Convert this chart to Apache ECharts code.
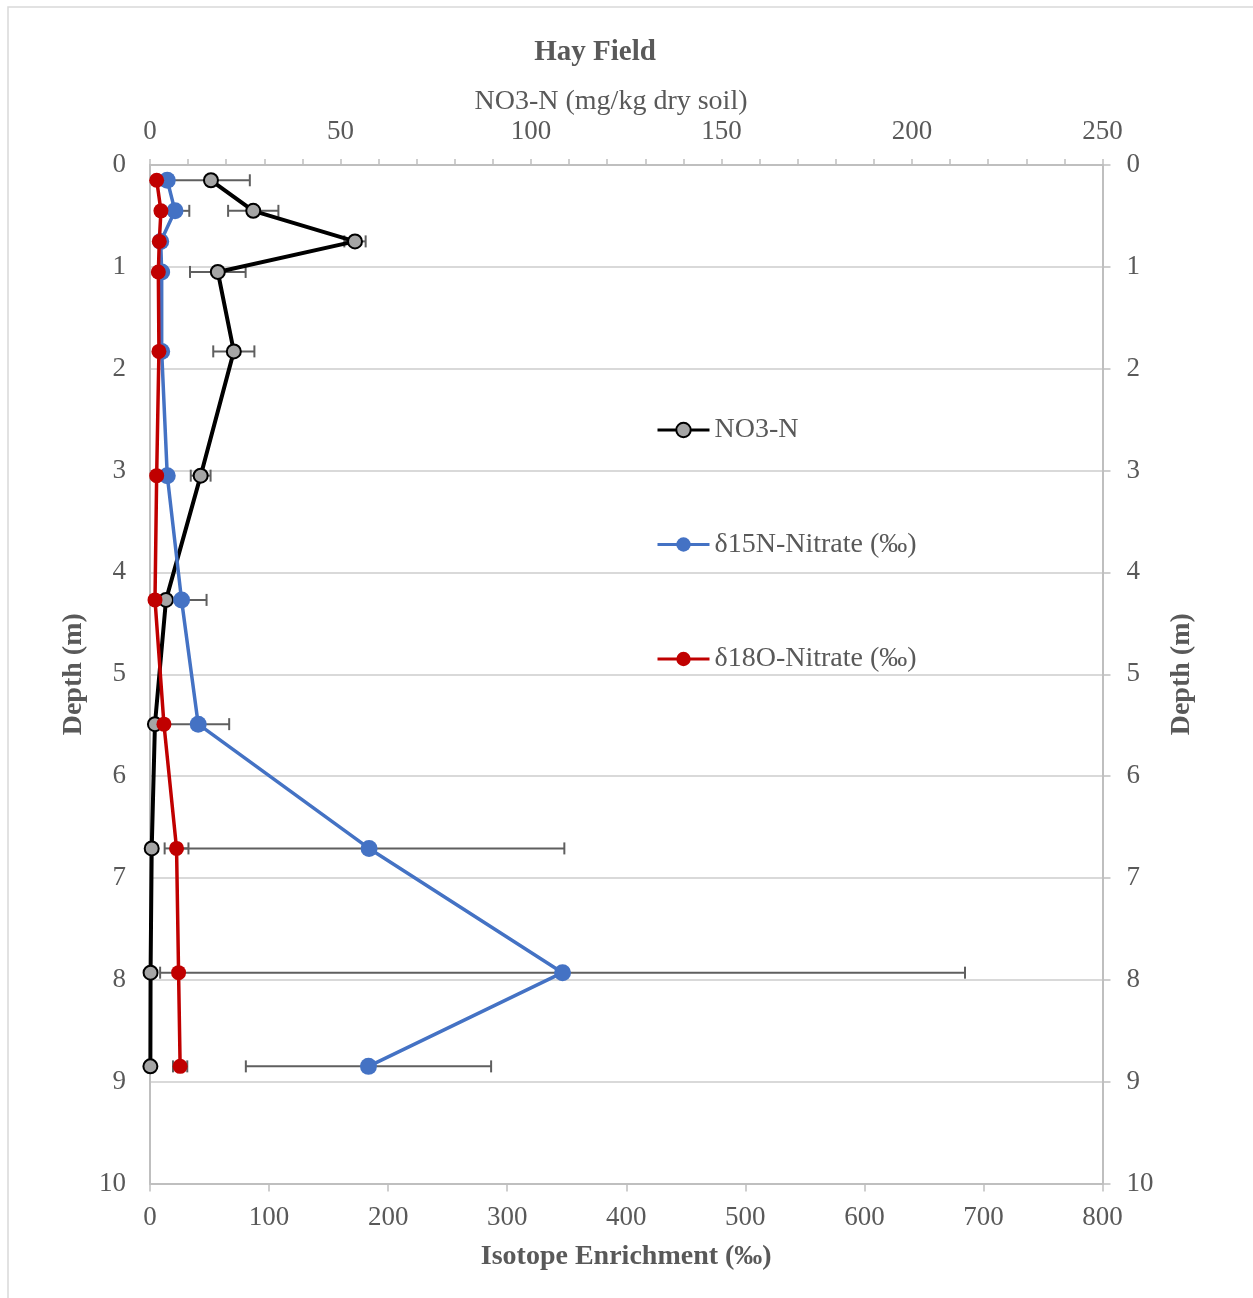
<!DOCTYPE html>
<html>
<head>
<meta charset="utf-8">
<title>Hay Field</title>
<script src="https://cdn.jsdelivr.net/npm/echarts@6/dist/echarts.min.js"></script>
<style>
  html, body { margin: 0; padding: 0; background: #ffffff; }
  #chart { width: 1253px; height: 1298px; }
</style>
</head>
<body>
<div id="chart"></div>
<script>
// Sampling depths (m)
const depths = [0.15, 0.45, 0.75, 1.05, 1.83, 3.05, 4.27, 5.49, 6.71, 7.93, 8.85];

// Nitrate concentration, NO3-N (mg/kg dry soil), with standard error
const no3 = [16.0, 27.1, 53.8, 17.8, 22.0, 13.3, 4.2, 1.3, 0.45, 0.15, 0.1];
const no3Err = [10.2, 6.6, 2.8, 7.3, 5.4, 2.6, null, null, null, null, null];

// δ15N of nitrate (‰), with standard error
const d15N = [14.5, 21.0, 9.0, 9.8, 9.8, 14.5, 26.5, 40.5, 184.0, 346.5, 183.5];
const d15NErr = [null, 12, null, null, null, null, 21, 26, 164, 338, 103];

// δ18O of nitrate (‰), with standard error
const d18O = [5.6, 9.2, 7.8, 7.0, 7.5, 5.6, 4.2, 11.7, 22.3, 24.0, 25.3];
const d18OErr = [null, null, null, null, null, null, null, null, 10, null, 6];

// Axis ticks
const isoTicks = { min: 0, max: 800, interval: 100 };
const no3Ticks = { min: 0, max: 250, interval: 50 };
const depthTicks = { min: 0, max: 10, interval: 1 };

const seriesNames = ['NO3-N', 'δ15N-Nitrate (‰)', 'δ18O-Nitrate (‰)'];

const FONT = '"Liberation Serif", "Times New Roman", serif';
const TEXT = '#595959';
const AXIS = '#bfbfbf';
const GRID = '#d9d9d9';

function pairs(xs) {
  return xs.map((x, i) => [x, depths[i]]);
}
function errTriples(xs, errs) {
  const out = [];
  xs.forEach((x, i) => { if (errs[i] != null) out.push([x, depths[i], errs[i]]); });
  return out;
}

// Horizontal error bar with end caps
function renderErr(params, api) {
  const x = api.value(0), d = api.value(1), e = api.value(2);
  const a = api.coord([x - e, d]);
  const b = api.coord([x + e, d]);
  const cap = 6;
  const style = { stroke: '#5f5f5f', lineWidth: 2 };
  return {
    type: 'group',
    children: [
      { type: 'line', shape: { x1: a[0], y1: a[1], x2: b[0], y2: b[1] }, style },
      { type: 'line', shape: { x1: a[0], y1: a[1] - cap, x2: a[0], y2: a[1] + cap }, style },
      { type: 'line', shape: { x1: b[0], y1: b[1] - cap, x2: b[0], y2: b[1] + cap }, style }
    ]
  };
}

const axisLabelStyle = { fontFamily: FONT, fontSize: 27, color: TEXT };
const axisNameStyle = { fontFamily: FONT, fontSize: 28, color: TEXT, fontWeight: 'bold' };

const chart = echarts.init(document.getElementById('chart'), null, { renderer: 'canvas' });

chart.setOption({
  backgroundColor: '#ffffff',
  animation: false,
  grid: { left: 150, right: 150.5, top: 165, bottom: 114.5 },
  graphic: [
    {
      type: 'rect', silent: true, z: -10,
      shape: { x: 8, y: 7, width: 1300, height: 1350 },
      style: { fill: 'none', stroke: GRID, lineWidth: 1.5 }
    },
    {
      type: 'text', silent: true,
      style: {
        text: 'Hay Field', x: 595, y: 53, textAlign: 'center', textVerticalAlign: 'middle',
        fontFamily: FONT, fontSize: 29, fontWeight: 'bold', fill: TEXT
      }
    },
    {
      type: 'text', silent: true,
      style: {
        text: 'NO3-N (mg/kg dry soil)', x: 611, y: 102, textAlign: 'center', textVerticalAlign: 'middle',
        fontFamily: FONT, fontSize: 28, fill: TEXT
      }
    }
  ],
  legend: {
    data: seriesNames,
    orient: 'vertical',
    left: 651,
    top: 411,
    padding: 5,
    itemWidth: 52,
    itemHeight: 18,
    itemGap: 86.5,
    lineStyle: { width: 3 },
    textStyle: { fontFamily: FONT, fontSize: 28, color: TEXT, lineHeight: 27 }
  },
  xAxis: [
    {
      type: 'value', position: 'bottom',
      min: isoTicks.min, max: isoTicks.max, interval: isoTicks.interval,
      name: 'Isotope Enrichment (‰)', nameLocation: 'middle', nameGap: 59,
      nameTextStyle: axisNameStyle,
      axisLine: { show: true, onZero: false, lineStyle: { color: AXIS, width: 2 } },
      axisTick: { show: true, length: 8, lineStyle: { color: AXIS, width: 1.5 } },
      splitLine: { show: false },
      axisLabel: Object.assign({ margin: 21 }, axisLabelStyle)
    },
    {
      type: 'value', position: 'top',
      min: no3Ticks.min, max: no3Ticks.max, interval: no3Ticks.interval,
      axisLine: { show: true, onZero: false, lineStyle: { color: AXIS, width: 2 } },
      axisTick: { show: true, length: 6, lineStyle: { color: AXIS, width: 1.5 } },
      minorTick: { show: true, splitNumber: 5, length: 6, lineStyle: { color: AXIS, width: 1.5 } },
      splitLine: { show: false },
      minorSplitLine: { show: false },
      axisLabel: Object.assign({ margin: 20 }, axisLabelStyle)
    }
  ],
  yAxis: [
    {
      type: 'value', position: 'left', inverse: true,
      min: depthTicks.min, max: depthTicks.max, interval: depthTicks.interval,
      name: 'Depth (m)', nameLocation: 'middle', nameGap: 59, nameRotate: 90,
      nameTextStyle: axisNameStyle,
      axisLine: { show: true, onZero: false, lineStyle: { color: AXIS, width: 2 } },
      axisTick: { show: false },
      splitLine: { show: true, lineStyle: { color: GRID, width: 2 } },
      axisLabel: Object.assign({ margin: 24 }, axisLabelStyle)
    },
    {
      type: 'value', position: 'right', inverse: true,
      min: depthTicks.min, max: depthTicks.max, interval: depthTicks.interval,
      name: 'Depth (m)', nameLocation: 'middle', nameGap: 65, nameRotate: 90,
      nameTextStyle: axisNameStyle,
      axisLine: { show: true, onZero: false, lineStyle: { color: AXIS, width: 2 } },
      axisTick: { show: true, length: 8, lineStyle: { color: AXIS, width: 1.5 } },
      splitLine: { show: false },
      axisLabel: Object.assign({ margin: 24 }, axisLabelStyle)
    }
  ],
  series: [
    {
      name: 'no3-err', type: 'custom', xAxisIndex: 1, yAxisIndex: 0, z: 2,
      renderItem: renderErr, encode: { x: 0, y: 1 },
      data: errTriples(no3, no3Err)
    },
    {
      name: 'd15n-err', type: 'custom', xAxisIndex: 0, yAxisIndex: 0, z: 2,
      renderItem: renderErr, encode: { x: 0, y: 1 },
      data: errTriples(d15N, d15NErr)
    },
    {
      name: 'd18o-err', type: 'custom', xAxisIndex: 0, yAxisIndex: 0, z: 2,
      renderItem: renderErr, encode: { x: 0, y: 1 },
      data: errTriples(d18O, d18OErr)
    },
    {
      name: seriesNames[0], type: 'line', xAxisIndex: 1, yAxisIndex: 0, z: 3,
      data: pairs(no3),
      symbol: 'circle', symbolSize: 14,
      itemStyle: { color: '#a5a5a5', borderColor: '#000000', borderWidth: 2 },
      lineStyle: { color: '#000000', width: 4 }
    },
    {
      name: seriesNames[1], type: 'line', xAxisIndex: 0, yAxisIndex: 0, z: 4,
      data: pairs(d15N),
      symbol: 'circle', symbolSize: 17,
      itemStyle: { color: '#4472c4' },
      lineStyle: { color: '#4472c4', width: 3.5 }
    },
    {
      name: seriesNames[2], type: 'line', xAxisIndex: 0, yAxisIndex: 0, z: 5,
      data: pairs(d18O),
      symbol: 'circle', symbolSize: 15,
      itemStyle: { color: '#c00000' },
      lineStyle: { color: '#c00000', width: 3.5 }
    }
  ]
});
</script>
</body>
</html>
